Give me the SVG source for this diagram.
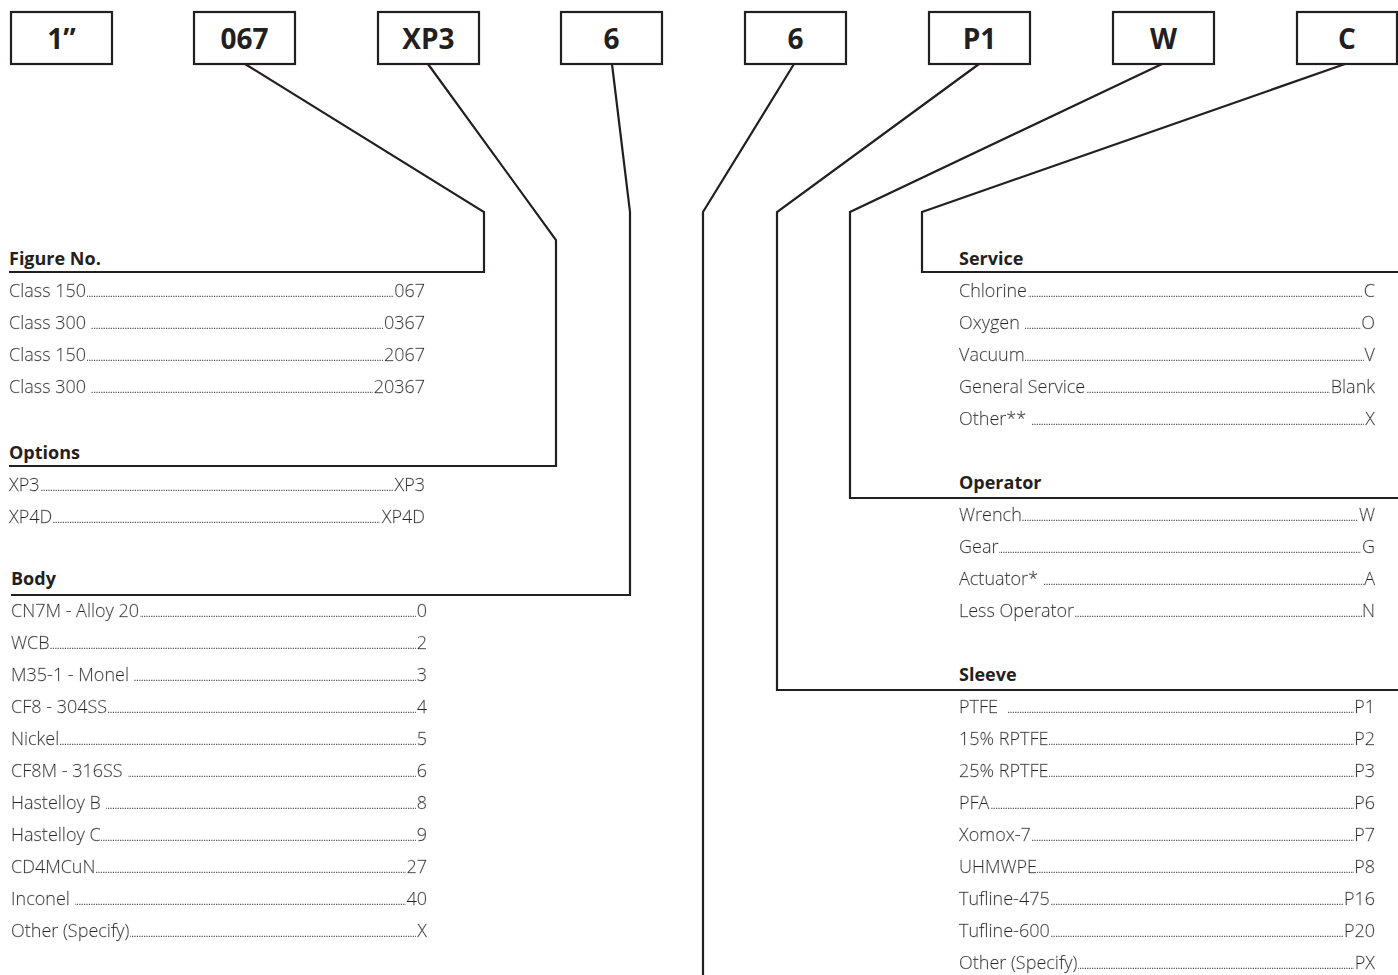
<svg xmlns="http://www.w3.org/2000/svg" width="1398" height="975" viewBox="0 0 1398 975">
<style>
.bx{fill:#fff;stroke:#231f20;stroke-width:2.2}
.bt{font-family:"Open Sans","Liberation Sans",sans-serif;font-weight:700;font-size:28px;fill:#231f20;text-anchor:middle}
.con{fill:none;stroke:#231f20;stroke-width:2.2;stroke-linejoin:miter}
.hd{font-family:"Open Sans","Liberation Sans",sans-serif;font-weight:700;font-size:18px;fill:#231f20}
.it{font-family:"Open Sans","Liberation Sans",sans-serif;font-weight:300;font-size:18px;fill:#262626;stroke:#262626;stroke-width:0.35;filter:url(#bg)}
.v{text-anchor:end}
.dot{stroke:#555;stroke-width:1.2;stroke-dasharray:1.2 1.2}
</style>
<defs>
<filter id="bg" x="0" y="0" width="1" height="1"><feFlood flood-color="#fff"/><feComposite in="SourceGraphic"/></filter>
</defs>
<rect width="1398" height="975" fill="#fff"/>
<g id="connectors">
<polyline class="con" points="245,64 484,212 484,272 9,272"/>
<polyline class="con" points="428,64 556,240 556,466 9,466"/>
<polyline class="con" points="612,64 630,212 630,595 11,595"/>
<polyline class="con" points="794,64 703,212 703,975"/>
<polyline class="con" points="979,64 777,212 777,690 1398,690"/>
<polyline class="con" points="1162,64 850,212 850,498 1398,498"/>
<polyline class="con" points="1345,64 922,212 922,272 1398,272"/>
</g>
<g id="box-size"><rect class="bx" x="11" y="12" width="101" height="52"/><text class="bt" x="61.5" y="49">1”</text></g>
<g id="box-figure"><rect class="bx" x="194" y="12" width="101" height="52"/><text class="bt" x="244.5" y="49">067</text></g>
<g id="box-options"><rect class="bx" x="378" y="12" width="101" height="52"/><text class="bt" x="428.5" y="49">XP3</text></g>
<g id="box-body"><rect class="bx" x="561" y="12" width="101" height="52"/><text class="bt" x="611.5" y="49">6</text></g>
<g id="box-6b"><rect class="bx" x="745" y="12" width="101" height="52"/><text class="bt" x="795.5" y="49">6</text></g>
<g id="box-sleeve"><rect class="bx" x="929" y="12" width="101" height="52"/><text class="bt" x="979.5" y="49">P1</text></g>
<g id="box-operator"><rect class="bx" x="1113" y="12" width="101" height="52"/><text class="bt" x="1163.5" y="49">W</text></g>
<g id="box-service"><rect class="bx" x="1297" y="12" width="100" height="52"/><text class="bt" x="1347" y="49">C</text></g>

<g id="figure-no">
<text class="hd" x="9" y="265">Figure No.</text>
<line class="dot" x1="10" y1="296.3" x2="424" y2="296.3"/>
<line class="dot" x1="10" y1="328.3" x2="424" y2="328.3"/>
<line class="dot" x1="10" y1="360.3" x2="424" y2="360.3"/>
<line class="dot" x1="10" y1="392.3" x2="424" y2="392.3"/>
<text class="it" x="9" y="297">Class 150</text><text class="it v" x="425" y="297">067</text>
<text class="it" x="9" y="329" xml:space="preserve">Class 300 </text><text class="it v" x="425" y="329">0367</text>
<text class="it" x="9" y="361">Class 150</text><text class="it v" x="425" y="361">2067</text>
<text class="it" x="9" y="393" xml:space="preserve">Class 300 </text><text class="it v" x="425" y="393">20367</text>
</g>

<g id="options">
<text class="hd" x="9" y="459">Options</text>
<line class="dot" x1="10" y1="490.3" x2="424" y2="490.3"/>
<line class="dot" x1="10" y1="522.3" x2="424" y2="522.3"/>
<text class="it" x="9" y="491">XP3</text><text class="it v" x="425" y="491">XP3</text>
<text class="it" x="9" y="523">XP4D</text><text class="it v" x="425" y="523">XP4D</text>
</g>

<g id="body">
<text class="hd" x="11" y="585">Body</text>
<line class="dot" x1="12" y1="616.3" x2="426" y2="616.3"/>
<line class="dot" x1="12" y1="648.3" x2="426" y2="648.3"/>
<line class="dot" x1="12" y1="680.3" x2="426" y2="680.3"/>
<line class="dot" x1="12" y1="712.3" x2="426" y2="712.3"/>
<line class="dot" x1="12" y1="744.3" x2="426" y2="744.3"/>
<line class="dot" x1="12" y1="776.3" x2="426" y2="776.3"/>
<line class="dot" x1="12" y1="808.3" x2="426" y2="808.3"/>
<line class="dot" x1="12" y1="840.3" x2="426" y2="840.3"/>
<line class="dot" x1="12" y1="872.3" x2="426" y2="872.3"/>
<line class="dot" x1="12" y1="904.3" x2="426" y2="904.3"/>
<line class="dot" x1="12" y1="936.3" x2="426" y2="936.3"/>
<text class="it" x="11" y="617">CN7M - Alloy 20</text><text class="it v" x="427" y="617">0</text>
<text class="it" x="11" y="649">WCB</text><text class="it v" x="427" y="649">2</text>
<text class="it" x="11" y="681" xml:space="preserve">M35-1 - Monel </text><text class="it v" x="427" y="681">3</text>
<text class="it" x="11" y="713">CF8 - 304SS</text><text class="it v" x="427" y="713">4</text>
<text class="it" x="11" y="745">Nickel</text><text class="it v" x="427" y="745">5</text>
<text class="it" x="11" y="777" xml:space="preserve">CF8M - 316SS </text><text class="it v" x="427" y="777">6</text>
<text class="it" x="11" y="809" xml:space="preserve">Hastelloy B </text><text class="it v" x="427" y="809">8</text>
<text class="it" x="11" y="841">Hastelloy C</text><text class="it v" x="427" y="841">9</text>
<text class="it" x="11" y="873">CD4MCuN</text><text class="it v" x="427" y="873">27</text>
<text class="it" x="11" y="905" xml:space="preserve">Inconel </text><text class="it v" x="427" y="905">40</text>
<text class="it" x="11" y="937">Other (Specify)</text><text class="it v" x="427" y="937">X</text>
</g>

<g id="service">
<text class="hd" x="959" y="265">Service</text>
<line class="dot" x1="960" y1="296.3" x2="1374" y2="296.3"/>
<line class="dot" x1="960" y1="328.3" x2="1374" y2="328.3"/>
<line class="dot" x1="960" y1="360.3" x2="1374" y2="360.3"/>
<line class="dot" x1="960" y1="392.3" x2="1374" y2="392.3"/>
<line class="dot" x1="960" y1="424.3" x2="1374" y2="424.3"/>
<text class="it" x="959" y="297">Chlorine</text><text class="it v" x="1375" y="297">C</text>
<text class="it" x="959" y="329" xml:space="preserve">Oxygen </text><text class="it v" x="1375" y="329">O</text>
<text class="it" x="959" y="361">Vacuum</text><text class="it v" x="1375" y="361">V</text>
<text class="it" x="959" y="393">General Service</text><text class="it v" x="1375" y="393">Blank</text>
<text class="it" x="959" y="425" xml:space="preserve">Other** </text><text class="it v" x="1375" y="425">X</text>
</g>

<g id="operator">
<text class="hd" x="959" y="489">Operator</text>
<line class="dot" x1="960" y1="520.3" x2="1374" y2="520.3"/>
<line class="dot" x1="960" y1="552.3" x2="1374" y2="552.3"/>
<line class="dot" x1="960" y1="584.3" x2="1374" y2="584.3"/>
<line class="dot" x1="960" y1="616.3" x2="1374" y2="616.3"/>
<text class="it" x="959" y="521">Wrench</text><text class="it v" x="1375" y="521">W</text>
<text class="it" x="959" y="553">Gear</text><text class="it v" x="1375" y="553">G</text>
<text class="it" x="959" y="585" xml:space="preserve">Actuator* </text><text class="it v" x="1375" y="585">A</text>
<text class="it" x="959" y="617">Less Operator</text><text class="it v" x="1375" y="617">N</text>
</g>

<g id="sleeve">
<text class="hd" x="959" y="681">Sleeve</text>
<line class="dot" x1="960" y1="712.3" x2="1374" y2="712.3"/>
<line class="dot" x1="960" y1="744.3" x2="1374" y2="744.3"/>
<line class="dot" x1="960" y1="776.3" x2="1374" y2="776.3"/>
<line class="dot" x1="960" y1="808.3" x2="1374" y2="808.3"/>
<line class="dot" x1="960" y1="840.3" x2="1374" y2="840.3"/>
<line class="dot" x1="960" y1="872.3" x2="1374" y2="872.3"/>
<line class="dot" x1="960" y1="904.3" x2="1374" y2="904.3"/>
<line class="dot" x1="960" y1="936.3" x2="1374" y2="936.3"/>
<line class="dot" x1="960" y1="968.3" x2="1374" y2="968.3"/>
<text class="it" x="959" y="713" xml:space="preserve">PTFE  </text><text class="it v" x="1375" y="713">P1</text>
<text class="it" x="959" y="745">15% RPTFE</text><text class="it v" x="1375" y="745">P2</text>
<text class="it" x="959" y="777">25% RPTFE</text><text class="it v" x="1375" y="777">P3</text>
<text class="it" x="959" y="809">PFA</text><text class="it v" x="1375" y="809">P6</text>
<text class="it" x="959" y="841">Xomox-7</text><text class="it v" x="1375" y="841">P7</text>
<text class="it" x="959" y="873">UHMWPE</text><text class="it v" x="1375" y="873">P8</text>
<text class="it" x="959" y="905">Tufline-475</text><text class="it v" x="1375" y="905">P16</text>
<text class="it" x="959" y="937">Tufline-600</text><text class="it v" x="1375" y="937">P20</text>
<text class="it" x="959" y="969">Other (Specify)</text><text class="it v" x="1375" y="969">PX</text>
</g>
</svg>
